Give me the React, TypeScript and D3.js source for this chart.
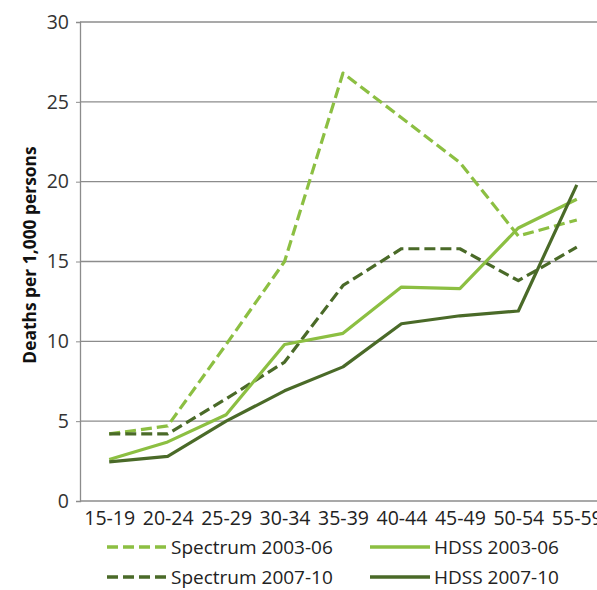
import React, { useEffect, useRef } from 'react';
import * as d3 from 'd3';

const ageGroups = ['15-19', '20-24', '25-29', '30-34', '35-39', '40-44', '45-49', '50-54', '55-59'];
const spectrum0306 = [4.2, 4.7, 9.8, 15.0, 26.8, 24.0, 21.2, 16.6, 17.6];
const hdss0306 = [2.6, 3.7, 5.4, 9.8, 10.5, 13.4, 13.3, 17.1, 18.9];
const spectrum0710 = [4.2, 4.2, 6.4, 8.7, 13.5, 15.8, 15.8, 13.8, 15.9];
const hdss0710 = [2.45, 2.8, 5.0, 6.9, 8.4, 11.1, 11.6, 11.9, 19.8];
const yTicks = [0, 5, 10, 15, 20, 25, 30];

const lightGreen = '#8cbf42';
const darkGreen = '#4a6a28';

const series = [
  { name: 'Spectrum 2003-06', values: spectrum0306, color: lightGreen, dashed: true },
  { name: 'HDSS 2003-06', values: hdss0306, color: lightGreen, dashed: false },
  { name: 'Spectrum 2007-10', values: spectrum0710, color: darkGreen, dashed: true },
  { name: 'HDSS 2007-10', values: hdss0710, color: darkGreen, dashed: false },
];

const width = 597;
const height = 590;

export default function App() {
  const svgRef = useRef<SVGSVGElement | null>(null);

  useEffect(() => {
    if (!svgRef.current) return;
    const svg = d3.select(svgRef.current);
    svg.selectAll('*').remove();

    const margin = { top: 22, left: 80, bottom: 501 };
    const plotRight = 606; // chart is cropped on the right

    const x = d3.scalePoint<string>().domain(ageGroups).range([margin.left, plotRight]).padding(0.5);
    const y = d3.scaleLinear().domain([0, 30]).range([margin.bottom, margin.top]);

    const font = "'Open Sans', sans-serif";

    // gridlines
    svg
      .append('g')
      .selectAll('line')
      .data(yTicks.filter((d) => d > 0))
      .enter()
      .append('line')
      .attr('x1', margin.left)
      .attr('x2', width)
      .attr('y1', (d) => y(d))
      .attr('y2', (d) => y(d))
      .attr('stroke', '#8c8c8c')
      .attr('stroke-width', 1.3);

    // axes
    const yAxis = svg
      .append('g')
      .attr('transform', `translate(${margin.left},0)`)
      .call(d3.axisLeft(y).tickValues(yTicks).tickSize(4).tickPadding(7));
    yAxis.select('.domain').attr('stroke', '#8c8c8c').attr('stroke-width', 1.3);
    yAxis.selectAll('.tick line').attr('stroke', '#8c8c8c');
    yAxis.selectAll('.tick text').attr('font-family', font).attr('font-size', 19.5).attr('fill', '#333');

    const xAxis = svg
      .append('g')
      .attr('transform', `translate(0,${margin.bottom})`)
      .call(d3.axisBottom(x).tickSize(0).tickPadding(10));
    xAxis.select('.domain').attr('stroke', '#8c8c8c').attr('stroke-width', 1.3).attr('d', `M${margin.left},0H${width}`);
    xAxis.selectAll('.tick text').attr('font-family', font).attr('font-size', 19.5).attr('fill', '#222');

    // y label
    svg
      .append('text')
      .attr('transform', `translate(36,${255}) rotate(-90)`)
      .attr('text-anchor', 'middle')
      .attr('font-family', font)
      .attr('font-weight', 'bold')
      .attr('font-size', 17.4)
      .attr('fill', '#111')
      .text('Deaths per 1,000 persons');

    const line = d3
      .line<number>()
      .x((_, i) => x(ageGroups[i]) as number)
      .y((d) => y(d));

    const drawOrder = [series[0], series[2], series[1], series[3]];
    drawOrder.forEach((s) => {
      svg
        .append('path')
        .datum(s.values)
        .attr('fill', 'none')
        .attr('stroke', s.color)
        .attr('stroke-width', 3.2)
        .attr('stroke-dasharray', s.dashed ? '11,5' : null)
        .attr('stroke-linejoin', 'round')
        .attr('d', line);
    });

    // legend
    const legendPos = [
      { x: 107, y: 547 },
      { x: 370, y: 547 },
      { x: 107, y: 577 },
      { x: 370, y: 577 },
    ];
    series.forEach((s, i) => {
      const p = legendPos[i];
      const g = svg.append('g').attr('transform', `translate(${p.x},${p.y})`);
      g.append('line')
        .attr('x1', 0)
        .attr('x2', 60)
        .attr('stroke', s.color)
        .attr('stroke-width', 3.5)
        .attr('stroke-dasharray', s.dashed ? '11,5' : null);
      g.append('text')
        .attr('x', 64)
        .attr('dy', '0.35em')
        .attr('font-family', font)
        .attr('font-size', 19)
        .attr('fill', '#222')
        .text(s.name);
    });
  }, []);

  return (
    <svg
      ref={svgRef}
      width={width}
      height={height}
      style={{ position: 'absolute', left: 0, top: 0, background: '#fff' }}
    ></svg>
  );
}
